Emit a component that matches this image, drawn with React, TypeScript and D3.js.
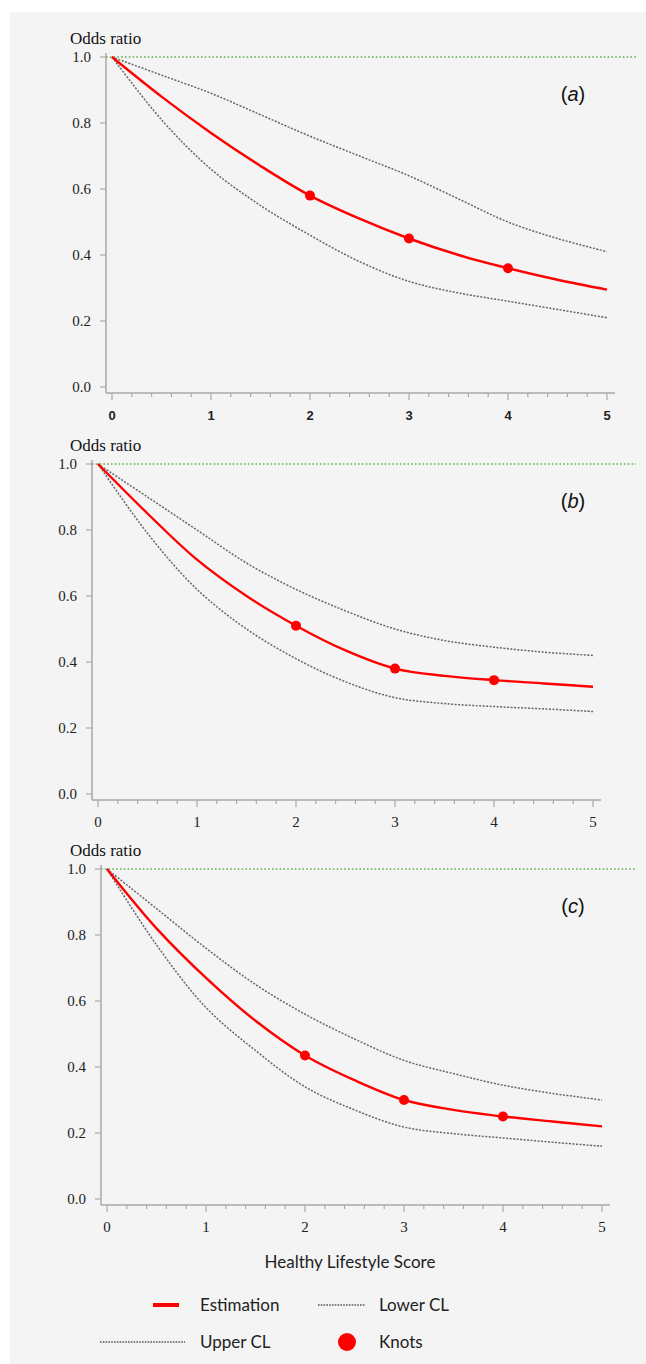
import React from "react";
import * as d3 from "d3";

// healthy lifestyle score grid used for every curve
const scores = [0, 0.5, 1, 1.5, 2, 2.5, 3, 3.5, 4, 4.5, 5];
const knotScores = [2, 3, 4];
const yTickValues = [0, 0.2, 0.4, 0.6, 0.8, 1.0];
const xTickValues = [0, 1, 2, 3, 4, 5];

// (a)
const estA = [1.0, 0.88, 0.77, 0.67, 0.58, 0.51, 0.45, 0.4, 0.36, 0.325, 0.295];
const upperA = [1.0, 0.945, 0.89, 0.825, 0.76, 0.7, 0.64, 0.57, 0.5, 0.45, 0.41];
const lowerA = [1.0, 0.81, 0.66, 0.55, 0.46, 0.38, 0.32, 0.285, 0.26, 0.235, 0.21];

// (b)
const estB = [1.0, 0.85, 0.71, 0.6, 0.51, 0.435, 0.38, 0.358, 0.345, 0.335, 0.325];
const upperB = [1.0, 0.9, 0.8, 0.7, 0.62, 0.555, 0.5, 0.465, 0.445, 0.43, 0.42];
const lowerB = [1.0, 0.79, 0.62, 0.5, 0.41, 0.34, 0.292, 0.274, 0.265, 0.258, 0.25];

// (c)
const estC = [1.0, 0.82, 0.67, 0.54, 0.435, 0.36, 0.3, 0.27, 0.25, 0.235, 0.22];
const upperC = [1.0, 0.88, 0.76, 0.65, 0.56, 0.485, 0.42, 0.38, 0.345, 0.32, 0.3];
const lowerC = [1.0, 0.77, 0.58, 0.45, 0.34, 0.27, 0.218, 0.198, 0.185, 0.172, 0.16];

const panels = [
  { id: "a", est: estA, upper: upperA, lower: lowerA, x0: 112, top: 57, boldX: true },
  { id: "b", est: estB, upper: upperB, lower: lowerB, x0: 98, top: 464, boldX: false },
  { id: "c", est: estC, upper: upperC, lower: lowerC, x0: 107, top: 869, boldX: false },
];

const serif = "'Liberation Serif', 'Times New Roman', serif";
const sans = "Lato, 'Open Sans', sans-serif";
const axisColor = "#a9a9a9";

function Panel(props: any) {
  const { id, est, upper, lower, x0, top, boldX } = props;
  const x = d3.scaleLinear().domain([0, 5]).range([x0, x0 + 495]);
  const y = d3.scaleLinear().domain([0, 1]).range([top + 330, top]);
  const axisX = x0 - 6;
  const axisY = y(0) + 6;

  const line = d3
    .line<number>()
    .x((d, i) => x(scores[i]))
    .y((d) => y(d))
    .curve(d3.curveCatmullRom.alpha(0.5));

  const minor = d3.range(0, 25.5, 1).map((i) => i / 5);

  return (
    <g>
      <text x={70} y={top - 13} fontFamily={serif} fontSize={17} fill="#111">
        Odds ratio
      </text>

      {/* y axis */}
      <line x1={axisX} x2={axisX} y1={top - 4} y2={axisY} stroke={axisColor} strokeWidth={1.5} />
      {yTickValues.map((t) => (
        <g key={t}>
          <line x1={axisX - 6} x2={axisX} y1={y(t)} y2={y(t)} stroke={axisColor} strokeWidth={1.2} />
          <text
            x={axisX - 15}
            y={y(t)}
            dy="0.35em"
            textAnchor="end"
            fontFamily={serif}
            fontSize={15}
            fill="#222"
          >
            {t.toFixed(1)}
          </text>
        </g>
      ))}

      {/* x axis */}
      <line x1={axisX} x2={x(5) + 8} y1={axisY} y2={axisY} stroke={axisColor} strokeWidth={1.5} />
      {minor.map((t) => (
        <line
          key={t}
          x1={x(t)}
          x2={x(t)}
          y1={axisY}
          y2={axisY + (Number.isInteger(t) ? 7 : 4)}
          stroke={axisColor}
          strokeWidth={1.2}
        />
      ))}
      {xTickValues.map((t) => (
        <text
          key={t}
          x={x(t)}
          y={axisY + 22}
          dy="0.35em"
          textAnchor="middle"
          fontFamily={boldX ? "'Liberation Sans', Arial, sans-serif" : serif}
          fontWeight={boldX ? "bold" : "normal"}
          fontSize={boldX ? 13 : 15}
          fill="#222"
        >
          {t}
        </text>
      ))}

      {/* reference line at 1 */}
      <line
        x1={axisX}
        x2={636}
        y1={y(1)}
        y2={y(1)}
        stroke="#5fae4f"
        strokeWidth={1.6}
        strokeDasharray="1.6,2.2"
      />

      <path d={line(upper) || ""} fill="none" stroke="#666" strokeWidth={1.5} strokeDasharray="2,1.5" />
      <path d={line(lower) || ""} fill="none" stroke="#666" strokeWidth={1.5} strokeDasharray="2,1.5" />
      <path d={line(est) || ""} fill="none" stroke="#ff0000" strokeWidth={2.4} />
      {knotScores.map((k) => (
        <circle key={k} cx={x(k)} cy={y(est[scores.indexOf(k)])} r={5} fill="#ff0000" />
      ))}

      <text x={573} y={top + 37} dy="0.35em" textAnchor="middle" fontFamily="'Liberation Sans', Arial, sans-serif" fontSize={20} fill="#111">
        (<tspan fontStyle="italic">{id}</tspan>)
      </text>
    </g>
  );
}

export default function App() {
  return (
    <svg width={646} height={1364} style={{ position: "absolute", left: 0, top: 0 }}>
      <rect x={0} y={0} width={646} height={1364} fill="#ffffff" />
      <rect x={10} y={12} width={636} height={1352} fill="#f4f4f4" />
      {panels.map((p) => (
        <Panel key={p.id} {...p} />
      ))}

      <text x={350} y={1262} dy="0.35em" textAnchor="middle" fontFamily={sans} fontSize={17} fill="#222">
        Healthy Lifestyle Score
      </text>

      {/* legend */}
      <line x1={153} x2={179} y1={1305} y2={1305} stroke="#ff0000" strokeWidth={4} />
      <text x={200} y={1305} dy="0.35em" fontFamily={sans} fontSize={17} fill="#222">
        Estimation
      </text>
      <line x1={318} x2={365} y1={1305} y2={1305} stroke="#555" strokeWidth={1.3} strokeDasharray="1.6,1.2" />
      <text x={379} y={1305} dy="0.35em" fontFamily={sans} fontSize={17} fill="#222">
        Lower CL
      </text>
      <line x1={100} x2={185} y1={1342} y2={1342} stroke="#555" strokeWidth={1.3} strokeDasharray="1.6,1.2" />
      <text x={200} y={1342} dy="0.35em" fontFamily={sans} fontSize={17} fill="#222">
        Upper CL
      </text>
      <circle cx={347} cy={1342} r={9} fill="#ff0000" />
      <text x={379} y={1342} dy="0.35em" fontFamily={sans} fontSize={17} fill="#222">
        Knots
      </text>
    </svg>
  );
}
